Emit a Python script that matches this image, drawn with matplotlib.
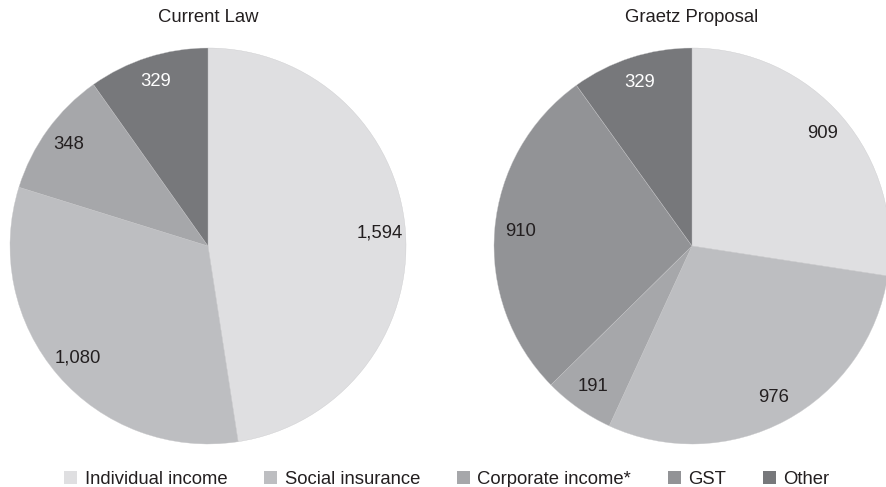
import matplotlib
matplotlib.use("Agg")
import matplotlib.pyplot as plt
from matplotlib.patches import Patch
import numpy as np

plt.rcParams['font.family'] = ['Liberation Sans', 'DejaVu Sans']

categories = ["Individual income", "Social insurance", "Corporate income*", "GST", "Other"]
current_law = [1594, 1080, 348, 0, 329]
graetz_proposal = [909, 976, 191, 910, 329]
titles = ["Current Law", "Graetz Proposal"]

colors = ["#dfdfe1", "#bdbec1", "#a6a7aa", "#929396", "#77787b"]
label_colors = ["#231f20", "#231f20", "#231f20", "#231f20", "#ffffff"]
text_dark = "#231f20"
FS = 13.3

W, H = 886, 487
fig = plt.figure(figsize=(W / 100, H / 100), dpi=100)

R = 198
centers = [(208, 246), (692, 246)]

for (cx, cy), title, values in zip(centers, titles, [current_law, graetz_proposal]):
    ax = fig.add_axes([(cx - R) / W, (H - cy - R) / H, 2 * R / W, 2 * R / H])
    idx = [i for i, v in enumerate(values) if v > 0]
    vals = [values[i] for i in idx]
    cols = [colors[i] for i in idx]
    wedges, _ = ax.pie(vals, colors=cols, startangle=90, counterclock=False,
                       radius=1, wedgeprops=dict(edgecolor="#c8c8ca", linewidth=0.25))
    for w, i in zip(wedges, idx):
        mid = np.deg2rad((w.theta1 + w.theta2) / 2)
        d = 0.87
        ax.text(d * np.cos(mid), d * np.sin(mid), f"{values[i]:,}",
                ha="center", va="center", fontsize=FS, color=label_colors[i])
    ax.set_xlim(-1, 1)
    ax.set_ylim(-1, 1)
    ax.set_aspect("equal")
    ax.axis("off")
    fig.text(cx / W, 1 - 18 / H, title, ha="center", va="center",
             fontsize=FS, color=text_dark)

handles = [Patch(facecolor=c, edgecolor="none") for c in colors]
fig.legend(handles, categories, loc="center", bbox_to_anchor=(447 / W, 1 - 479 / H),
           ncol=5, frameon=False, fontsize=FS, handlelength=0.7, handleheight=0.7,
           handletextpad=0.4, columnspacing=2.0, labelcolor=text_dark)

fig.savefig("out.png", dpi=100, facecolor="white")
